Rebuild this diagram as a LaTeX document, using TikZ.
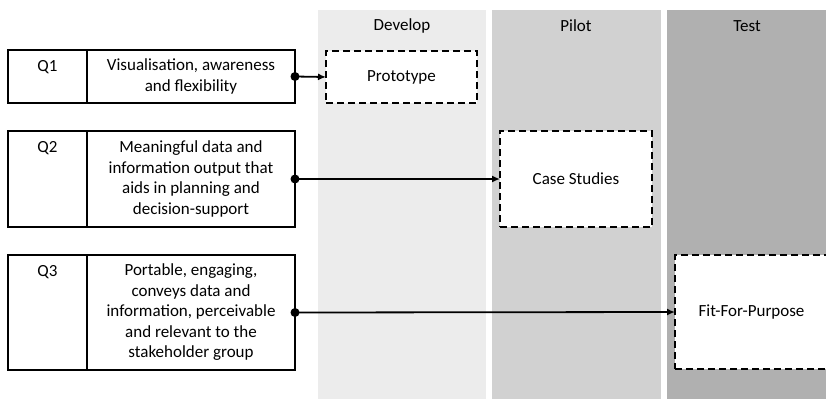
\documentclass[tikz,border=0pt]{standalone}
\usepackage{fontspec}
\setmainfont{Carlito}
\usetikzlibrary{positioning,arrows.meta}

\definecolor{devgray}{RGB}{236,236,236}
\definecolor{pilotgray}{RGB}{209,209,209}
\definecolor{testgray}{RGB}{176,176,176}

\tikzset{
  cell/.style={draw, line width=1.3pt, outer sep=0pt, inner sep=0pt},
  qcell/.style={cell, minimum width=79, anchor=north west},
  desccell/.style={cell, minimum width=208, align=center},
  stage/.style={draw, line width=1.2pt, dash pattern=on 7pt off 4pt, fill=white,
    outer sep=0pt, anchor=north west, align=center},
  link/.style={line width=1.8pt, -{Latex[length=8pt,width=7pt]}},
}

\begin{document}
\begin{tikzpicture}[x=1pt,y=-1pt,font=\fontsize{17}{20.5}\selectfont]
\useasboundingbox (0,0) rectangle (826,399);
\clip (0,0) rectangle (826,399);
% stage columns
\fill[devgray] (318,10) rectangle (486,399);
\fill[pilotgray] (492,10) rectangle (661,399);
\fill[testgray] (667,10) rectangle (830,399);
\node (develop) at (402,26) {Develop};
\node (pilot) at (576,26) {Pilot};
\node (test) at (747,26) {Test};

% questions
\node[qcell, minimum height=53] (q1) at (8,50) {};
\node[desccell, minimum height=53, right=0pt of q1] (d1) {Visualisation, awareness\\and flexibility};
\node[below=7pt of q1.north] (q1lab) {Q1};

\node[qcell, minimum height=96] (q2) at (8,131) {};
\node[desccell, minimum height=96, right=0pt of q2] (d2) {Meaningful data and\\information output that\\aids in planning and\\decision-support};
\node[below=7pt of q2.north] (q2lab) {Q2};

\node[qcell, minimum height=115] (q3) at (8,255) {};
\node[desccell, minimum height=115, right=0pt of q3] (d3) {Portable, engaging,\\conveys data and\\information, perceivable\\and relevant to the\\stakeholder group};
\node[below=7pt of q3.north] (q3lab) {Q3};

% outcomes
\node[stage, minimum width=151, minimum height=52] (proto) at (326,51) {Prototype};
\node[stage, minimum width=152, minimum height=96] (case) at (500,131) {Case Studies};
\node[stage, minimum width=153, minimum height=114] (fit) at (675,255) {Fit-For-Purpose};

% links
\draw[link] (d1.east) -- (proto.west);
\draw[link] (d2.east) -- (case.west);
\draw[link] (d3.east) -- (fit.west);
\fill (d1.east) circle (4.5);
\fill (d2.east) circle (4.5);
\fill (d3.east) circle (4.5);
\end{tikzpicture}
\end{document}
